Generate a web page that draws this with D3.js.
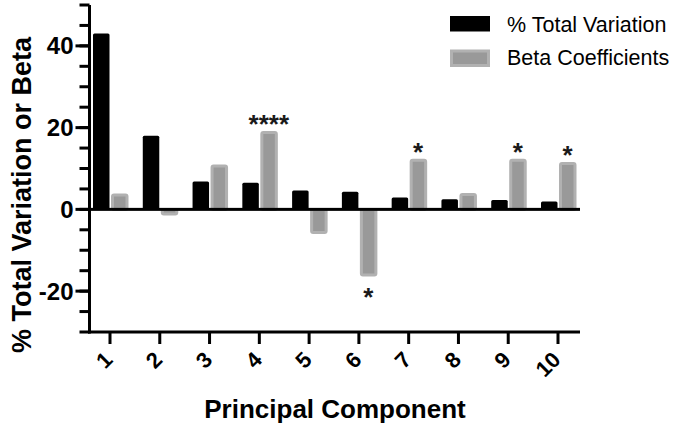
<!DOCTYPE html>
<html>
<head>
<meta charset="utf-8">
<script src="https://cdn.jsdelivr.net/npm/d3@7"></script>
<style>
  html, body { margin: 0; padding: 0; background: #fff; }
  svg { display: block; font-family: "Liberation Sans", Arial, Helvetica, sans-serif; }
</style>
</head>
<body>
<svg id="chart" width="675" height="428"></svg>
<script>
// ---- data ----
const components = [1, 2, 3, 4, 5, 6, 7, 8, 9, 10];
const totalVariation = [43.0, 18.0, 6.8, 6.5, 4.6, 4.3, 2.9, 2.5, 2.3, 1.9];
const betaCoefficients = [3.9, -1.5, 11.0, 19.2, -6.0, -16.4, 12.4, 4.0, 12.4, 11.6];
const significance = ["", "", "", "****", "", "*", "*", "", "*", "*"];
const seriesNames = ["% Total Variation", "Beta Coefficients"];
const yMajorTicks = [-20, 0, 20, 40];
const yMinorTicks = d3.range(-30, 51, 5);

// ---- layout ----
const svg = d3.select("#chart");
const plotLeft = 89.5, plotRight = 580, plotTop = 5, plotBottom = 332;

const y = d3.scaleLinear().domain([-30, 50]).range([plotBottom, plotTop]);
const x = d3.scalePoint().domain(components).range([110, 558]);
const barW = 16.5;

const g = svg.append("g");

// bars: total variation (black)
g.selectAll("rect.tv").data(components).join("rect")
  .attr("class", "tv")
  .attr("x", d => x(d) - barW - 0.5)
  .attr("width", barW)
  .attr("y", (d, i) => y(Math.max(0, totalVariation[i])))
  .attr("height", (d, i) => Math.abs(y(totalVariation[i]) - y(0)))
  .attr("rx", 1.5)
  .attr("fill", "#000");

// bars: beta coefficients (grey with lighter outline)
const sw = 3;
g.selectAll("rect.beta").data(components).join("rect")
  .attr("class", "beta")
  .attr("x", d => x(d) + 1 + sw / 2)
  .attr("width", 17.5 - sw)
  .attr("y", (d, i) => y(Math.max(0, betaCoefficients[i])) + (betaCoefficients[i] > 0 ? sw / 2 : 0))
  .attr("height", (d, i) => Math.max(0, Math.abs(y(betaCoefficients[i]) - y(0)) - sw / 2))
  .attr("rx", 1.5)
  .attr("fill", "#999")
  .attr("stroke", "#b1b1b1")
  .attr("stroke-width", sw);

// significance stars
g.selectAll("text.sig").data(components).join("text")
  .attr("class", "sig")
  .attr("x", d => x(d) + 9.5)
  .attr("y", (d, i) => betaCoefficients[i] >= 0
      ? y(betaCoefficients[i]) - 13 + 15
      : y(betaCoefficients[i]) + 15 + 15)
  .attr("text-anchor", "middle")
  .attr("font-size", 26)
  .attr("font-weight", "bold")
  .attr("fill", "#1a1a1a")
  .text((d, i) => significance[i]);

// zero line
g.append("rect")
  .attr("x", plotLeft).attr("width", plotRight - plotLeft)
  .attr("y", y(0) - 1.5).attr("height", 3)
  .attr("fill", "#000");

// y axis line
g.append("rect")
  .attr("x", plotLeft - 1.5).attr("width", 3)
  .attr("y", y(50)).attr("height", y(-30) - y(50) + 1.5)
  .attr("fill", "#000");

// y minor ticks
g.selectAll("rect.ymin").data(yMinorTicks).join("rect")
  .attr("class", "ymin")
  .attr("x", plotLeft - 10).attr("width", 10)
  .attr("y", d => y(d) - 1.5).attr("height", 3)
  .attr("fill", "#000");

// y major ticks + labels
g.selectAll("rect.ymaj").data(yMajorTicks).join("rect")
  .attr("class", "ymaj")
  .attr("x", plotLeft - 14).attr("width", 14)
  .attr("y", d => y(d) - 1.5).attr("height", 3)
  .attr("fill", "#000");
g.selectAll("text.ylab").data(yMajorTicks).join("text")
  .attr("class", "ylab")
  .attr("x", plotLeft - 16)
  .attr("y", d => y(d))
  .attr("dy", "0.35em")
  .attr("text-anchor", "end")
  .attr("font-size", 24).attr("font-weight", "bold")
  .attr("fill", "#000")
  .text(d => d);

// x axis line
g.append("rect")
  .attr("x", plotLeft - 1.5).attr("width", plotRight - plotLeft + 1.5)
  .attr("y", plotBottom - 1.5).attr("height", 3)
  .attr("fill", "#000");

// x ticks + labels
g.selectAll("rect.xt").data(components).join("rect")
  .attr("class", "xt")
  .attr("x", d => x(d) - 1.5).attr("width", 3)
  .attr("y", plotBottom).attr("height", 12)
  .attr("fill", "#000");
g.selectAll("text.xlab").data(components).join("text")
  .attr("class", "xlab")
  .attr("text-anchor", "end")
  .attr("font-size", 22).attr("font-weight", "bold")
  .attr("fill", "#000")
  .attr("transform", d => `translate(${x(d) + 4},${plotBottom + 29}) rotate(-45)`)
  .text(d => d);

// axis titles
svg.append("text")
  .attr("transform", `translate(31,195) rotate(-90)`)
  .attr("text-anchor", "middle")
  .attr("font-size", 27).attr("font-weight", "bold")
  .text("% Total Variation or Beta");

svg.append("text")
  .attr("x", 335)
  .attr("y", 418)
  .attr("text-anchor", "middle")
  .attr("font-size", 26).attr("font-weight", "bold")
  .text("Principal Component");

// legend
const legend = svg.append("g").attr("transform", "translate(450,16)");
const legendRows = legend.selectAll("g").data(seriesNames).join("g")
  .attr("transform", (d, i) => `translate(0,${i * 33.5})`);
legendRows.append("rect")
  .attr("x", (d, i) => i === 0 ? 0 : 1.5)
  .attr("y", (d, i) => i === 0 ? 0 : 1.5)
  .attr("width", (d, i) => i === 0 ? 40 : 37)
  .attr("height", (d, i) => i === 0 ? 15.5 : 14.5)
  .attr("fill", (d, i) => i === 0 ? "#000" : "#999")
  .attr("stroke", (d, i) => i === 0 ? "none" : "#b1b1b1")
  .attr("stroke-width", 3);
legendRows.append("text")
  .attr("x", 57)
  .attr("y", 8)
  .attr("dy", "0.35em")
  .attr("font-size", 21.5)
  .attr("fill", "#000")
  .text(d => d);
</script>
</body>
</html>
